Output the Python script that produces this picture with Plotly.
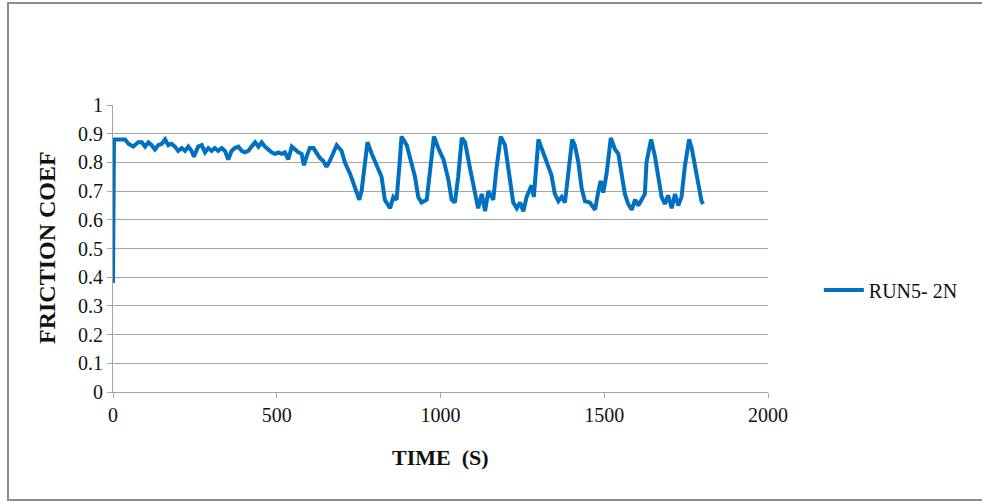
import plotly.graph_objects as go

time_s = [0, 3, 11, 27, 37, 47, 62, 77, 88, 98, 108, 118, 128, 138, 149, 159, 169, 179, 189, 199,
          210, 220, 230, 240, 247, 260, 271, 281, 291, 301, 311, 321, 332, 342, 352, 362, 372, 383,
          393, 403, 413, 423, 434, 444, 454, 464, 474, 484, 495, 505, 515, 525, 535, 546, 556, 566,
          576, 583, 591, 601, 612, 622, 632, 642, 652, 662, 683, 698, 708, 724, 739, 752, 759, 769,
          777, 790, 810, 820, 830, 846, 856, 866, 876, 881, 897, 907, 922, 932, 942, 958, 968, 980,
          993, 1009, 1024, 1034, 1044, 1054, 1065, 1075, 1090, 1105, 1115, 1126, 1136, 1146, 1161,
          1171, 1184, 1197, 1212, 1222, 1233, 1243, 1253, 1263, 1278, 1285, 1299, 1314, 1329, 1339,
          1349, 1360, 1370, 1380, 1390, 1402, 1410, 1421, 1431, 1441, 1456, 1472, 1482, 1489, 1497,
          1507, 1520, 1533, 1543, 1553, 1563, 1573, 1584, 1594, 1604, 1614, 1624, 1629, 1643, 1655,
          1665, 1675, 1685, 1695, 1706, 1716, 1726, 1736, 1746, 1759, 1767, 1777, 1787, 1797, 1802]

friction = [0.38, 0.88, 0.88, 0.88, 0.88, 0.865, 0.855, 0.87, 0.87, 0.855, 0.87, 0.86, 0.845, 0.86,
            0.865, 0.88, 0.86, 0.865, 0.855, 0.84, 0.85, 0.84, 0.855, 0.84, 0.82, 0.855, 0.86, 0.835,
            0.85, 0.84, 0.85, 0.84, 0.85, 0.84, 0.81, 0.84, 0.85, 0.855, 0.84, 0.835, 0.84, 0.855,
            0.87, 0.855, 0.87, 0.855, 0.845, 0.835, 0.83, 0.835, 0.83, 0.835, 0.81, 0.855, 0.845,
            0.835, 0.83, 0.79, 0.82, 0.85, 0.85, 0.83, 0.815, 0.805, 0.785, 0.805, 0.86, 0.84, 0.80,
            0.76, 0.71, 0.67, 0.70, 0.81, 0.87, 0.83, 0.78, 0.75, 0.67, 0.64, 0.68, 0.67, 0.81, 0.89,
            0.86, 0.82, 0.75, 0.68, 0.66, 0.67, 0.77, 0.89, 0.85, 0.81, 0.74, 0.67, 0.66, 0.75, 0.885,
            0.87, 0.78, 0.69, 0.64, 0.69, 0.63, 0.70, 0.67, 0.78, 0.89, 0.86, 0.75, 0.66, 0.64, 0.66,
            0.63, 0.68, 0.72, 0.68, 0.88, 0.83, 0.785, 0.755, 0.69, 0.665, 0.68, 0.66, 0.76, 0.88,
            0.86, 0.80, 0.71, 0.665, 0.66, 0.635, 0.70, 0.735, 0.695, 0.76, 0.885, 0.845, 0.83,
            0.765, 0.69, 0.655, 0.635, 0.67, 0.65, 0.67, 0.69, 0.80, 0.88, 0.82, 0.755, 0.68, 0.655,
            0.685, 0.64, 0.69, 0.65, 0.68, 0.785, 0.88, 0.85, 0.785, 0.725, 0.665, 0.655]

x_ticks = [0, 500, 1000, 1500, 2000]
y_ticks = [0, 0.1, 0.2, 0.3, 0.4, 0.5, 0.6, 0.7, 0.8, 0.9, 1]
y_tick_labels = ["0", "0.1", "0.2", "0.3", "0.4", "0.5", "0.6", "0.7", "0.8", "0.9", "1"]

SERIF = "Liberation Serif, Times New Roman, serif"
GRID = "#a6a6a6"
TXT = "#111111"

fig = go.Figure()
fig.add_trace(go.Scatter(
    x=time_s, y=friction, mode="lines", name="RUN5- 2N",
    line=dict(color="#0070C0", width=4),
))

fig.update_layout(
    width=982, height=502,
    margin=dict(l=113, r=214, t=105, b=110),
    paper_bgcolor="white", plot_bgcolor="white",
    font=dict(family=SERIF, size=20, color=TXT),
    showlegend=True,
    legend=dict(x=1.0776, y=0.355, xanchor="left", yanchor="middle",
                font=dict(family=SERIF, size=20, color=TXT),
                bgcolor="rgba(0,0,0,0)", itemwidth=40),
    xaxis=dict(range=[0, 2000], tickvals=x_ticks, ticktext=[str(v) for v in x_ticks],
               showgrid=False, zeroline=False, showline=True, linecolor=GRID, linewidth=1,
               ticks="outside", ticklen=5, tickcolor=GRID, tickfont=dict(size=20, color=TXT),
               fixedrange=True),
    yaxis=dict(range=[0, 1], tickvals=y_ticks, ticktext=y_tick_labels,
               showgrid=True, gridcolor=GRID, gridwidth=1, zeroline=False,
               showline=True, linecolor=GRID, linewidth=1,
               ticks="outside", ticklen=5, tickcolor=GRID, tickfont=dict(size=20, color=TXT),
               fixedrange=True),
    annotations=[
        dict(text="<b>FRICTION COEF</b>", xref="paper", yref="paper",
             x=(47 - 113) / 655, y=(392 - 248) / 287, textangle=-90, showarrow=False,
             font=dict(family=SERIF, size=24, color=TXT),
             xanchor="center", yanchor="middle"),
        dict(text="<b>TIME  (S)</b>", xref="paper", yref="paper",
             x=(440 - 113) / 655, y=(392 - 458) / 287, showarrow=False,
             font=dict(family=SERIF, size=22, color=TXT),
             xanchor="center", yanchor="middle"),
    ],
    shapes=[
        dict(type="rect", xref="paper", yref="paper",
             x0=(8 - 113) / 655, x1=(990 - 113) / 655,
             y0=(392 - 500) / 287, y1=(392 - 3) / 287,
             line=dict(color="#8c8c8c", width=2), fillcolor="rgba(0,0,0,0)", layer="below"),
    ],
)

fig.write_html("out.html", config={"displayModeBar": False},
               post_script="document.body.style.margin='0px';")
